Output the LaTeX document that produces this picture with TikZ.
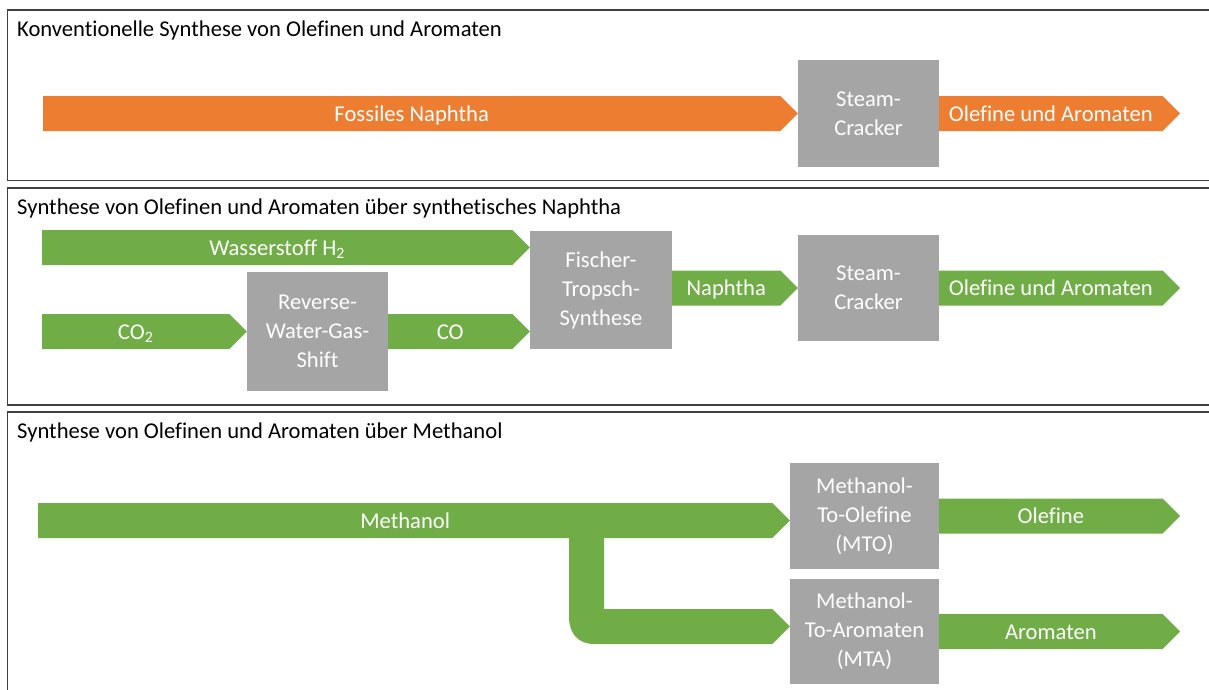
\documentclass[tikz,border=0pt]{standalone}
\usepackage{fontspec}
\setmainfont{Carlito}[Ligatures=NoCommon]
\usetikzlibrary{calc}
\definecolor{flowgreen}{HTML}{70AD47}
\definecolor{floworange}{HTML}{ED7D31}
\definecolor{procgray}{HTML}{A5A5A5}
\definecolor{framegray}{HTML}{404040}

% block arrow: colour, tail point, tip point, label node name, label
\newcommand{\flowarrow}[5]{%
  \fill[#1] ($#2+(0,-17.5)$) -- ($#3+(-17.5,-17.5)$) -- #3
        -- ($#3+(-17.5,17.5)$) -- ($#2+(0,17.5)$) -- cycle;
  \path #2 -- ($#3+(-17.5,0)$) node[midway,flowlabel] (#4) {#5};
}

\begin{document}
\begin{tikzpicture}[x=1pt,y=-1pt,
  every node/.style={font=\fontsize{22.6}{29}\selectfont},
  frame/.style={draw=framegray,line width=1.2pt},
  title/.style={anchor=base west,inner sep=0,text=black},
  proc/.style={fill=procgray,text=white,align=center,inner sep=0},
  flowlabel/.style={text=white,inner sep=0,anchor=base,yshift=-7.5pt}]
\useasboundingbox (0,0) rectangle (1209,689);
\clip (0,0) rectangle (1209,689);

% section frames
\draw[frame] (7.5,10) rectangle (1220,180.5);
\draw[frame] (7.5,188) rectangle (1220,405);
\draw[frame] (7.5,412) rectangle (1220,720);

\node[title] (t1) at (17,36) {Konventionelle Synthese von Olefinen und Aromaten};
\node[title] (t2) at (17,214) {Synthese von Olefinen und Aromaten über synthetisches Naphtha};
\node[title] (t3) at (17,438) {Synthese von Olefinen und Aromaten über Methanol};

% conventional route
\node[proc,minimum width=141,minimum height=107] (sc1) at (868.5,113.5) {Steam-\\Cracker};
\coordinate (fossil) at (43,113.5);
\coordinate (out1) at (1180,113.5);
\flowarrow{floworange}{(fossil)}{(sc1.west)}{lfossil}{Fossiles Naphtha}
\flowarrow{floworange}{(sc1.east)}{(out1)}{lout1}{Olefine und Aromaten}

% route via synthetic naphtha
\node[proc,minimum width=142,minimum height=118] (ft) at (601,290) {Fischer-\\Tropsch-\\Synthese};
\node[proc,minimum width=141,minimum height=119] (rwgs) at (317.5,331.5) {Reverse-\\Water-Gas-\\Shift};
\node[proc,minimum width=141,minimum height=106] (sc2) at (868.5,288) {Steam-\\Cracker};
\coordinate (h2) at (42,247.5);
\coordinate (h2tip) at (ft.west |- h2);
\coordinate (co2) at (42,331.5);
\coordinate (cotip) at (ft.west |- rwgs.east);
\coordinate (naph) at (ft.east |- sc2.west);
\coordinate (out2) at (1180,288);
\flowarrow{flowgreen}{(h2)}{(h2tip)}{lh2}{Wasserstoff H\textsubscript{2}}
\flowarrow{flowgreen}{(co2)}{(rwgs.west)}{lco2}{CO\textsubscript{2}}
\flowarrow{flowgreen}{(rwgs.east)}{(cotip)}{lco}{CO}
\flowarrow{flowgreen}{(naph)}{(sc2.west)}{lnaph}{Naphtha}
\flowarrow{flowgreen}{(sc2.east)}{(out2)}{lout2}{Olefine und Aromaten}

% route via methanol
\node[proc,minimum width=149,minimum height=106] (mto) at (864.5,516) {Methanol-\\To-Olefine\\(MTO)};
\node[proc,minimum width=149,minimum height=105] (mta) at (864.5,631.5) {Methanol-\\To-Aromaten\\(MTA)};
\coordinate (meth) at (38,520.5);
\coordinate (methtip) at (mto.west |- meth);
\coordinate (branch) at (604,626.5);
\coordinate (branchtip) at (mta.west |- branch);
\coordinate (out3) at (1180,516);
\coordinate (out4) at (1180,631.5);
% branch towards MTA with rounded outer bend
\fill[flowgreen] (569,530) -- (569,617) .. controls (569,633) and (578,644) .. (594,644)
  -- ($(branchtip)+(-17.5,17.5)$) -- (branchtip) -- ($(branchtip)+(-17.5,-17.5)$)
  -- (604,609) -- (604,530) -- cycle;
\flowarrow{flowgreen}{(meth)}{(methtip)}{lmeth}{Methanol}
\flowarrow{flowgreen}{(mto.east)}{(out3)}{lolef}{Olefine}
\flowarrow{flowgreen}{(mta.east)}{(out4)}{larom}{Aromaten}
\end{tikzpicture}
\end{document}
